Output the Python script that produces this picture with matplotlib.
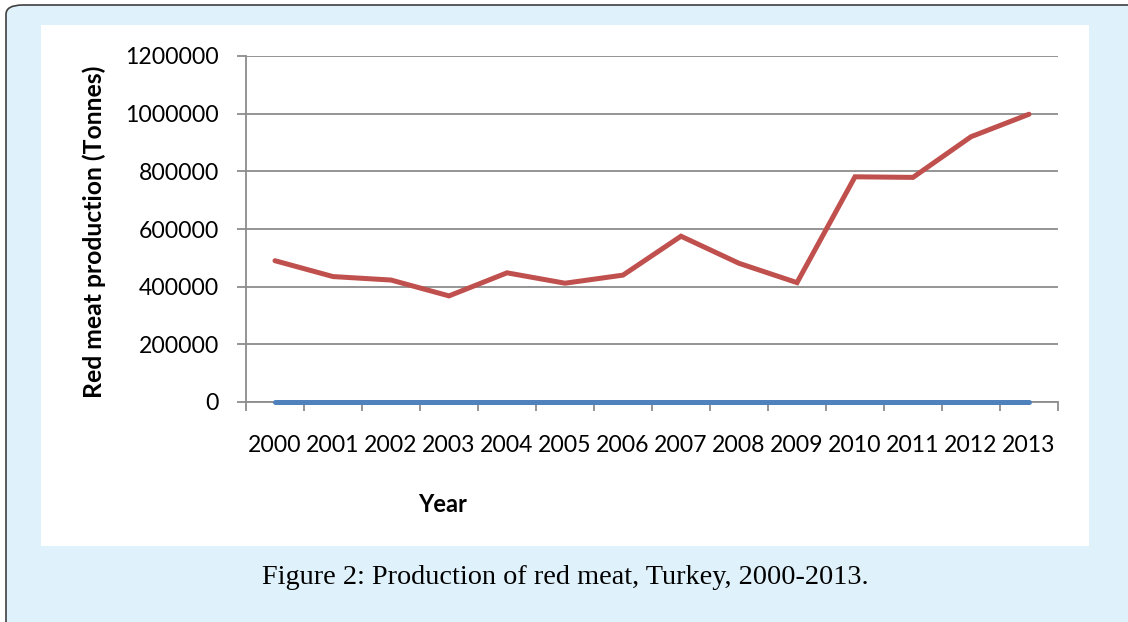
import matplotlib
matplotlib.use("Agg")
import matplotlib.pyplot as plt
from matplotlib.patches import FancyBboxPatch, Rectangle
from matplotlib.ticker import FixedLocator, NullFormatter

years = ["2000", "2001", "2002", "2003", "2004", "2005", "2006",
         "2007", "2008", "2009", "2010", "2011", "2012", "2013"]
red_meat = [490000, 435000, 423000, 368000, 448000, 412000, 440000,
            575000, 481000, 414000, 781000, 779000, 920000, 998000]
blue_series = [0, 0, 0, 0, 0, 0, 0, 0, 0, 0, 0, 0, 0, 0]
yticks = [0, 200000, 400000, 600000, 800000, 1000000, 1200000]

W, H = 1128, 622
fig = plt.figure(figsize=(W / 100, H / 100), dpi=100)
fig.patch.set_facecolor("white")

# outer rounded box
box = FancyBboxPatch((6 / W, -0.2), 1.3, (622 - 5) / H + 0.2,
                     boxstyle="round,pad=0,rounding_size=0.015",
                     transform=fig.transFigure, facecolor="#dff1fb",
                     edgecolor="#404040", linewidth=1.2, zorder=-3)
fig.patches.append(box)
panel = Rectangle((41 / W, (622 - 546) / H), (1089 - 41) / W, (546 - 25) / H,
                  transform=fig.transFigure, facecolor="white",
                  edgecolor="none", zorder=-2)
fig.patches.append(panel)

ax = fig.add_axes([246 / W, (622 - 402) / H, (1058 - 246) / W, (402 - 56) / H])
ax.set_facecolor("none")
x = list(range(len(years)))
ax.plot(x, blue_series, color="#4f81bd", linewidth=3.6, solid_capstyle="round",
        zorder=3, clip_on=False)
ax.plot(x, red_meat, color="#c0504d", linewidth=3.6, solid_capstyle="round",
        solid_joinstyle="miter", zorder=4, clip_on=False)

ax.set_xlim(-0.5, len(years) - 0.5)
ax.set_ylim(0, 1200000)
ax.set_yticks(yticks)
ax.set_yticklabels([str(v) for v in yticks])
ax.yaxis.grid(True, color="#8c8c8c", linewidth=1.3)
ax.set_axisbelow(True)

ax.set_xticks(x)
ax.set_xticklabels(years)
ax.xaxis.set_minor_locator(FixedLocator([i - 0.5 for i in range(len(years) + 1)]))
ax.xaxis.set_minor_formatter(NullFormatter())
ax.tick_params(axis="x", which="major", length=0, pad=24)
ax.tick_params(axis="x", which="minor", length=6.5, width=1.3, color="#8c8c8c", direction="out")
ax.tick_params(axis="y", length=6.5, width=1.3, color="#8c8c8c", direction="out", pad=13)

for sp in ["top", "right"]:
    ax.spines[sp].set_visible(False)
for sp in ["left", "bottom"]:
    ax.spines[sp].set_color("#8c8c8c")
    ax.spines[sp].set_linewidth(1.3)

for lab in ax.get_xticklabels() + ax.get_yticklabels():
    lab.set_fontfamily("Lato")
    lab.set_fontsize(16.6)
    lab.set_color("black")

fig.text(94 / W, 1 - 232 / H, "Red meat production (Tonnes)", rotation=90,
         ha="center", va="center", fontfamily="Lato", fontweight="bold", fontsize=17.8)
fig.text(443 / W, 1 - 505 / H, "Year", ha="center", va="center",
         fontfamily="Lato", fontweight="bold", fontsize=17)
fig.text(565 / W, 1 - 577 / H, "Figure 2: Production of red meat, Turkey, 2000-2013.",
         ha="center", va="center", fontfamily="Liberation Serif", fontsize=20.3)

fig.savefig("out.png", dpi=100)
